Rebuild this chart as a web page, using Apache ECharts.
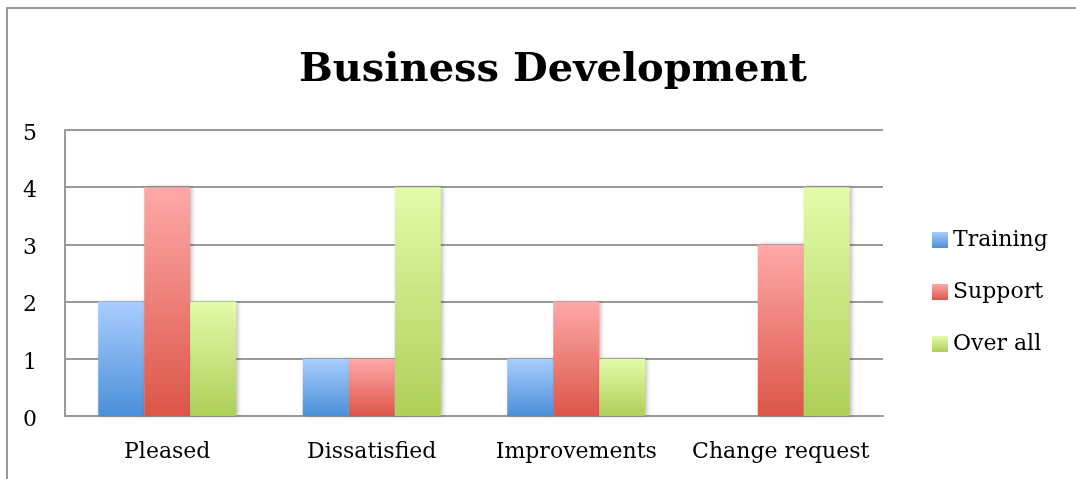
<!DOCTYPE html>
<html>
<head>
<meta charset="utf-8">
<script src="https://cdn.jsdelivr.net/npm/echarts@6/dist/echarts.min.js"></script>
<style>
  html, body { margin: 0; padding: 0; background: #fff; }
  #chart { width: 1076px; height: 479px; }
</style>
</head>
<body>
<div id="chart"></div>
<script>
// Survey results by topic
const categories = ['Pleased', 'Dissatisfied', 'Improvements', 'Change request'];
const training = [2, 1, 1, 0];
const support = [4, 1, 2, 3];
const overAll = [2, 4, 1, 4];
const yTicks = [0, 1, 2, 3, 4, 5];

const FONT = '"DejaVu Serif", "Liberation Serif", serif';

function grad(top, bottom) {
  return new echarts.graphic.LinearGradient(0, 0, 0, 1, [
    { offset: 0, color: top },
    { offset: 1, color: bottom }
  ]);
}

function barSeries(name, data, top, bottom) {
  return {
    name: name,
    type: 'bar',
    data: data,
    barGap: '0%',
    barCategoryGap: '32.5%',
    itemStyle: {
      color: grad(top, bottom),
      shadowColor: 'rgba(0,0,0,0.25)',
      shadowBlur: 4,
      shadowOffsetX: 2,
      shadowOffsetY: 0
    },
    emphasis: { disabled: true }
  };
}

const chart = echarts.init(document.getElementById('chart'), null, { renderer: 'canvas' });
chart.setOption({
  backgroundColor: '#ffffff',
  animation: false,
  graphic: [{
    type: 'rect',
    shape: { x: 7, y: 8, width: 1200, height: 600 },
    style: { fill: 'none', stroke: '#9a9a9a', lineWidth: 2 },
    silent: true
  }],
  title: {
    text: 'Business Development',
    left: 548,
    textAlign: 'center',
    top: 46,
    textStyle: { fontFamily: FONT, fontWeight: 'bold', fontSize: 40, color: '#000' }
  },
  legend: {
    orient: 'vertical',
    left: 932,
    top: 229,
    padding: 0,
    itemWidth: 16,
    itemHeight: 16,
    itemGap: 30,
    icon: 'rect',
    textStyle: { fontFamily: FONT, fontSize: 22, color: '#000', lineHeight: 22 },
    selectedMode: false
  },
  grid: { left: 65, right: 193, top: 130, bottom: 63, containLabel: false },
  xAxis: {
    type: 'category',
    data: categories,
    axisLine: { lineStyle: { color: '#9a9a9a', width: 2 } },
    axisTick: { show: false },
    axisLabel: { interval: 0, hideOverlap: false, fontFamily: FONT, fontSize: 22, color: '#000', margin: 25 }
  },
  yAxis: {
    type: 'value',
    min: yTicks[0],
    max: yTicks[yTicks.length - 1],
    interval: 1,
    axisLine: { show: true, lineStyle: { color: '#9a9a9a', width: 2 } },
    axisTick: { show: false },
    splitLine: { lineStyle: { color: '#9a9a9a', width: 2 } },
    axisLabel: {
      margin: 28,
      formatter: '{v|{value}}',
      rich: { v: { fontFamily: FONT, fontSize: 22, color: '#000', padding: [8, 0, 0, 0] } }
    }
  },
  series: [
    barSeries('Training', training, '#aacdfe', '#4a8fd8'),
    barSeries('Support', support, '#fea9a8', '#dc5548'),
    barSeries('Over all', overAll, '#e3fba9', '#aecf58')
  ]
});
</script>
</body>
</html>
